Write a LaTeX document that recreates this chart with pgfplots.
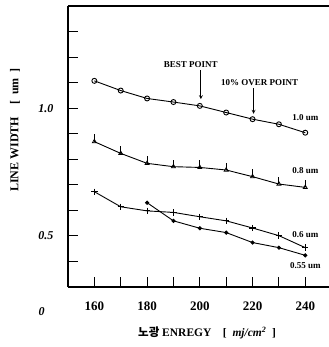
\documentclass[border=0pt]{standalone}
\usepackage{pgfplots}
\pgfplotsset{compat=1.18}
\usepackage{pgfplotstable}
\usepackage{fontspec}
\setmainfont{Liberation Serif}
\newfontfamily\krfont{Noto Sans CJK KR}
\usetikzlibrary{calc}

\pgfplotstableread{
x y
160 1.107
170 1.069
180 1.038
190 1.024
200 1.009
210 0.983
220 0.957
230 0.937
240 0.904
}\sA
\pgfplotstableread{
x y
160 0.869
170 0.823
180 0.784
190 0.771
200 0.768
210 0.758
220 0.732
230 0.703
240 0.690
}\sB
\pgfplotstableread{
x y
160 0.673
170 0.614
180 0.598
190 0.592
200 0.575
210 0.559
220 0.531
230 0.501
240 0.454
}\sC
\pgfplotstableread{
x y
180 0.630
190 0.559
200 0.530
210 0.513
220 0.474
230 0.454
240 0.424
}\sD

\begin{document}
\begin{tikzpicture}
\begin{axis}[
  width=261pt, height=281pt, scale only axis,
  xmin=150, xmax=249, ymin=0.3, ymax=1.4,
  axis x line=box, axis y line*=left,
  y axis line style={-},
  axis line style={line width=1.2pt},
  xtick pos=left, ytick pos=left,
  tick align=inside,
  major tick length=10pt, minor tick length=10pt,
  tick style={line width=1pt, black},
  xtick={160,180,...,240},
  minor xtick={170,190,210,230},
  ytick={0.5,1.0},
  yticklabels={0.5,1.0},
  minor ytick={0.4,0.6,0.7,0.8,0.9,1.1,1.2,1.3},
  /pgf/number format/assume math mode=true,
  xticklabel style={font=\fontsize{13}{15}\selectfont\bfseries, yshift=-11pt},
  yticklabel style={font=\fontsize{12}{14}\selectfont\bfseries\itshape, xshift=-11pt},
  clip=false,
]
\addplot[black, line width=0.9pt, mark=o, mark size=2.5pt, mark options={fill=white, line width=0.9pt}] table {\sA};
\addplot[black, line width=0.9pt, mark=triangle, mark size=2.3pt, mark options={fill=white, line width=0.8pt},
  error bars/.cd, y dir=plus, y fixed=0.028, error mark=none,
  error bar style={line width=0.9pt}] table {\sB};
\addplot[black, line width=0.9pt, mark=+, mark size=3.2pt, mark options={line width=1.1pt}] table {\sC};
\addplot[black, line width=0.9pt, mark=*, mark size=1.6pt] table {\sD};

\draw[->, >=stealth, line width=0.8pt] (axis cs:200.4,1.148) -- (axis cs:200.4,1.035);
\draw[->, >=stealth, line width=0.8pt] (axis cs:220.4,1.078) -- (axis cs:220.4,0.978);
\node[font=\fontsize{9}{10}\selectfont\bfseries] at (axis cs:196.6,1.170) {BEST POINT};
\node[font=\fontsize{9}{10}\selectfont\bfseries] at (axis cs:222.7,1.101) {10\% OVER POINT};
\node[font=\fontsize{9}{10}\selectfont\bfseries] at (axis cs:240,0.962) {1.0 um};
\node[font=\fontsize{9}{10}\selectfont\bfseries] at (axis cs:240,0.754) {0.8 um};
\node[font=\fontsize{9}{10}\selectfont\bfseries] at (axis cs:240,0.505) {0.6 um};
\node[font=\fontsize{9}{10}\selectfont\bfseries] at (axis cs:240,0.382) {0.55 um};
\path (axis cs:140,0.3) ++(0pt,-25pt) node[font=\fontsize{12}{14}\selectfont\bfseries\itshape] {0};
\path (rel axis cs:0,0.559) ++(-53pt,0pt) node[rotate=90, font=\fontsize{12}{14}\selectfont\bfseries] {LINE WIDTH\quad[\enspace um\enspace]};
\path (rel axis cs:0.533,0) ++(0pt,-46pt) node[font=\fontsize{11.5}{13}\selectfont\bfseries] {{\krfont 노광} ENREGY\quad[\enspace\textit{mj/cm\textsuperscript{2}}\enspace]};
\end{axis}
\pgfresetboundingbox
\path ($(current axis.south west)+(-68pt,-60pt)$) rectangle ($(current axis.north east)+(0pt,6pt)$);
\end{tikzpicture}
\end{document}
